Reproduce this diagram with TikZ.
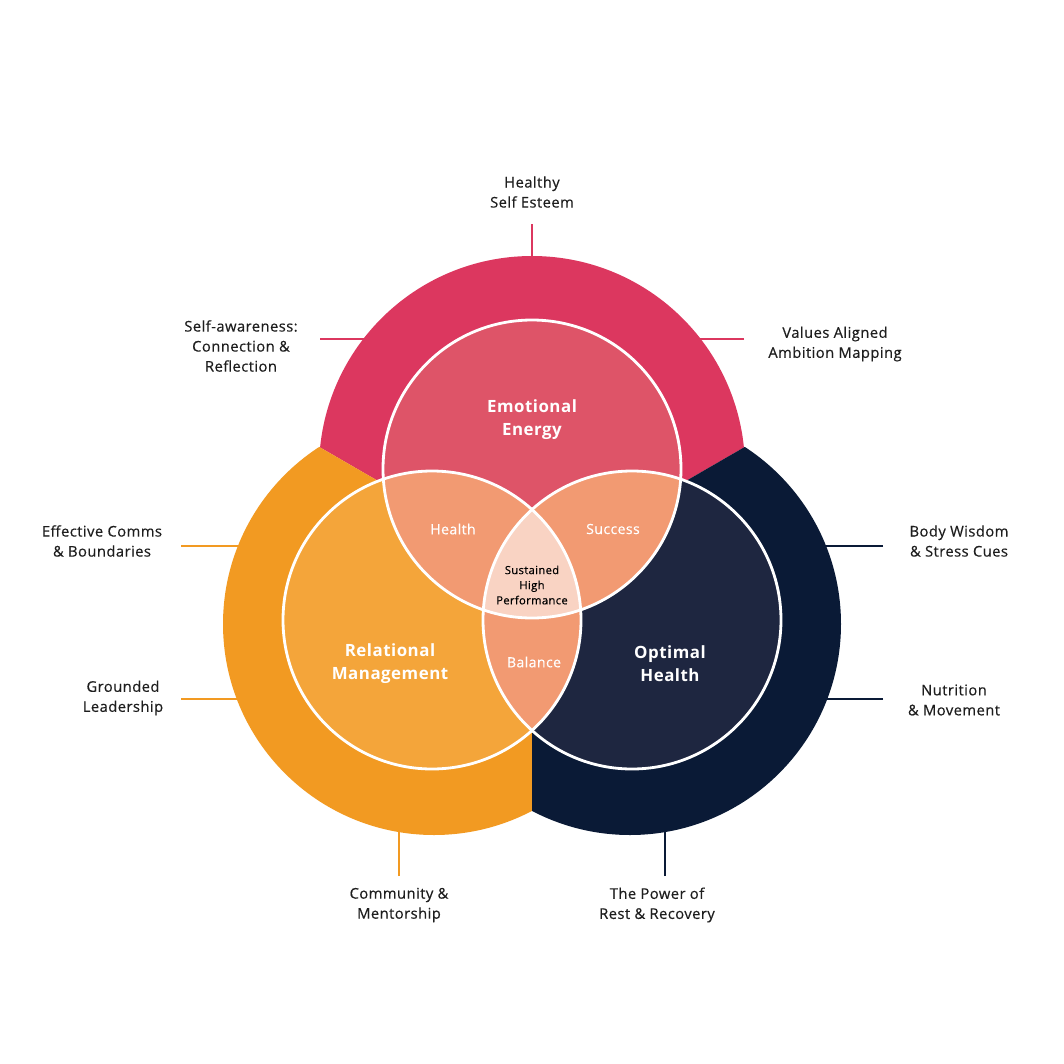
\documentclass[tikz,border=0pt]{standalone}
\usepackage{fontspec}
\setmainfont{Open Sans}[LetterSpace=3,FakeBold=0.4,
  BoldFont=Open Sans Bold,BoldFeatures={FakeBold=0}]
\usepackage{xcolor}
\usetikzlibrary{positioning}
\definecolor{eeouter}{HTML}{DC375F}
\definecolor{eeinner}{HTML}{DE5468}
\definecolor{rmouter}{HTML}{F29A22}
\definecolor{rminner}{HTML}{F4A53A}
\definecolor{ohouter}{HTML}{0A1A36}
\definecolor{ohinner}{HTML}{1E2640}
\definecolor{overlap}{HTML}{F29A72}
\definecolor{core}{HTML}{F9D3C3}
\definecolor{inktext}{HTML}{1E1E1E}

\begin{document}
\begin{tikzpicture}[
        x=0.5mm,y=-0.5mm,
        ring/.style={line width=4pt,draw=white},
        tick/.style={line width=3pt},
        lbl/.style={text=inktext,align=center,inner sep=0pt,
                    font=\fontsize{21}{28.5}\selectfont},
        title/.style={text=white,align=center,inner sep=0pt,
                      font=\bfseries\fontsize{24}{32.5}\selectfont},
        pair/.style={text=white,inner sep=0pt,font=\fontsize{20}{26}\selectfont},
        coretext/.style={text=black,align=center,inner sep=0pt,
                         font=\fontsize{16}{21.5}\selectfont}
      ]
        \fill[white] (0,0) rectangle (1064,1064);
        \useasboundingbox (0,0) rectangle (1064,1064);

        % centres of the three circles
        \coordinate (ee) at (532,469);
        \coordinate (rm) at (432,620);
        \coordinate (oh) at (632,620);
        \coordinate (mid) at (532,570);

        % tick ends
        \coordinate (tEsteem) at (532,224);
        \coordinate (tAware) at (320,339);
        \coordinate (tValues) at (744,339);
        \coordinate (tComms) at (181,546);
        \coordinate (tGround) at (181,699);
        \coordinate (tBody) at (883,546);
        \coordinate (tNutri) at (883,699);
        \coordinate (tCommun) at (399,876);
        \coordinate (tRest) at (665,876);

        \draw[tick,eeouter] (tEsteem) -- (ee);
        \draw[tick,eeouter] (tAware) -- (tAware -| ee);
        \draw[tick,eeouter] (tValues) -- (tValues -| ee);
        \draw[tick,rmouter] (tComms) -- (tComms -| rm);
        \draw[tick,rmouter] (tGround) -- (tGround -| rm);
        \draw[tick,rmouter] (tCommun) -- (tCommun |- rm);
        \draw[tick,ohouter] (tBody) -- (tBody -| oh);
        \draw[tick,ohouter] (tNutri) -- (tNutri -| oh);
        \draw[tick,ohouter] (tRest) -- (tRest |- oh);

        % outer bands
        \begin{scope}
          \clip (mid) -- (150,349) -- (150,200) -- (914,200) -- (914,349) -- cycle;
          \fill[eeouter] (ee) circle (213);
        \end{scope}
        \begin{scope}
          \clip (mid) -- (150,349) -- (150,900) -- (532,900) -- cycle;
          \fill[rmouter] (434,624) circle (211);
        \end{scope}
        \begin{scope}
          \clip (mid) -- (914,349) -- (914,900) -- (532,900) -- cycle;
          \fill[ohouter] (630,624) circle (211);
        \end{scope}

        % inner circles and overlaps
        \fill[eeinner] (ee) circle (149);
        \fill[rminner] (rm) circle (149);
        \fill[ohinner] (oh) circle (149);
        \begin{scope}
          \clip (ee) circle (149);
          \fill[overlap] (rm) circle (149);
          \fill[overlap] (oh) circle (149);
        \end{scope}
        \begin{scope}
          \clip (rm) circle (149);
          \fill[overlap] (oh) circle (149);
          \clip (oh) circle (149);
          \fill[core] (ee) circle (149);
        \end{scope}
        \draw[ring] (ee) circle (149);
        \draw[ring] (rm) circle (149);
        \draw[ring] (oh) circle (149);

        % circle titles
        \node[title] (eetitle) at (532,420) {Emotional\\Energy};
        \node[title] (rmtitle) at (390,664) {Relational\\Management};
        \node[title] (ohtitle) at (670,664) {Optimal\\Health};
        \node[pair] (health) at (453,529) {Health};
        \node[pair] (success) at (613,529) {Success};
        \node[pair] (balance) at (534,662) {Balance};
        \node[coretext] (shp) at (532,585) {Sustained\\High\\Performance};

        % outer labels
        \node[lbl] (esteem) at (532,192) {Healthy\\Self Esteem};
        \node[lbl] (aware) at (241,346) {Self-awareness:\\Connection \&\\Reflection};
        \node[lbl] (values) at (835,344) {Values Aligned\\Ambition Mapping};
        \node[lbl] (comms) at (102,541) {Effective Comms\\\& Boundaries};
        \node[lbl] (ground) at (123,698) {Grounded\\Leadership};
        \node[lbl] (body) at (959,541) {Body Wisdom\\\& Stress Cues};
        \node[lbl] (nutri) at (954,700) {Nutrition\\\& Movement};
        \node[lbl] (commun) at (399,905) {Community \&\\Mentorship};
        \node[lbl] (rest) at (657,905) {The Power of\\Rest \& Recovery};
      \end{tikzpicture}
\end{document}
